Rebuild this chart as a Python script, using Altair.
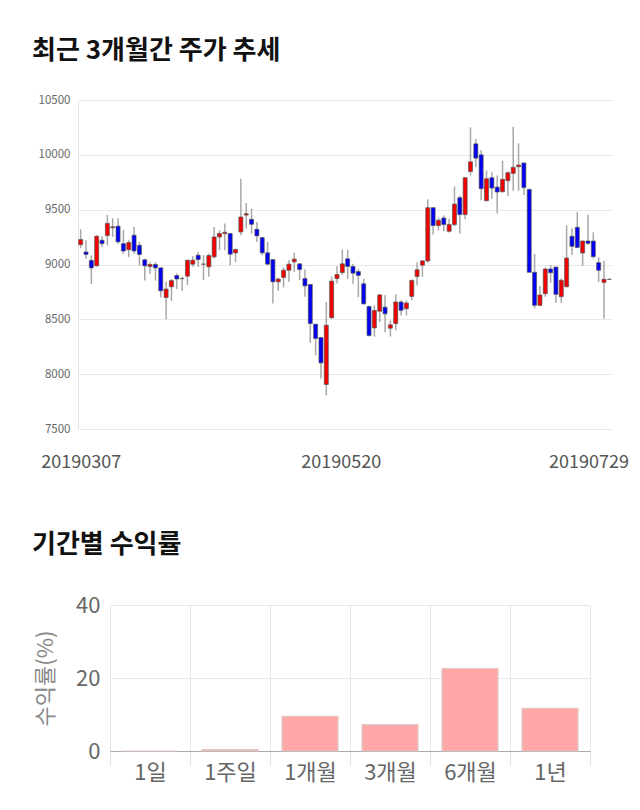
import altair as alt
import pandas as pd

FONT = "Noto Sans CJK KR"

# ---- candlestick data (100 trading days, 2019-03-07 .. 2019-07-29) ----
opens = [9181, 9114, 9037, 8988, 9221, 9264, 9335, 9350, 9190, 9135,
         9267, 9175, 9043, 8982, 9000, 8969, 8699, 8797, 8899, 8872,
         8894, 9003, 9085, 9003, 8979, 9070, 9251, 9282, 9282, 9106,
         9297, 9451, 9412, 9321, 9245, 9106, 9045, 8842, 8882, 8948,
         9024, 9006, 8872, 8818, 8456, 8334, 7906, 8514, 8872, 8927,
         9052, 8982, 8936, 8824, 8617, 8422, 8574, 8611, 8419, 8461,
         8658, 8597, 8709, 8891, 8994, 9033, 9518, 9355, 9424, 9303,
         9364, 9609, 9455, 9848, 10100, 10000, 9582, 9791, 9706, 9664,
         9764, 9831, 9892, 9926, 9685, 8929, 8628, 8734, 8959, 8977,
         8707, 8798, 9257, 9339, 9105, 9214, 9214, 9017, 8837, 8865]
highs = [9320, 9221, 9083, 9267, 9258, 9451, 9421, 9421, 9313, 9221,
         9344, 9206, 9052, 9021, 9021, 8975, 8846, 8868, 8920, 8889,
         9045, 9076, 9115, 9085, 9100, 9342, 9312, 9373, 9290, 9145,
         9782, 9560, 9509, 9388, 9251, 9206, 9045, 8882, 8973, 9039,
         9106, 9010, 8954, 8818, 8456, 8334, 8660, 8888, 8985, 9137,
         9134, 9006, 8960, 8869, 8626, 8626, 8730, 8723, 8489, 8727,
         8673, 8673, 8861, 9021, 9040, 9594, 9520, 9427, 9448, 9418,
         9712, 9630, 9795, 10251, 10145, 10045, 9858, 9842, 9812, 9947,
         9847, 10257, 10105, 9926, 9690, 9096, 8807, 8971, 8995, 8977,
         8874, 9357, 9330, 9479, 9220, 9454, 9293, 9065, 9035, 8870]
lows = [9150, 9052, 8822, 8982, 9160, 9175, 9252, 9190, 9098, 9068,
        9098, 8991, 8853, 8914, 8853, 8699, 8500, 8668, 8776, 8760,
        8812, 8979, 8979, 8858, 8888, 9055, 9130, 9130, 8994, 9024,
        9267, 9327, 9282, 9206, 9085, 8994, 8645, 8761, 8791, 8842,
        8933, 8857, 8705, 8286, 8173, 7960, 7808, 8507, 8827, 8903,
        8869, 8824, 8702, 8635, 8343, 8343, 8474, 8383, 8343, 8400,
        8536, 8536, 8673, 8809, 8888, 9015, 9273, 9312, 9303, 9291,
        9350, 9282, 9412, 9812, 9888, 9585, 9575, 9600, 9464, 9655,
        9625, 9673, 9673, 9634, 8929, 8600, 8620, 8707, 8834, 8652,
        8652, 8790, 9087, 9150, 8986, 9178, 9056, 8840, 8506, 8862]
closes = [9227, 9092, 8969, 9258, 9190, 9375, 9344, 9206, 9123, 9200,
          9123, 9092, 8988, 9000, 8969, 8760, 8776, 8853, 8868, 8872,
          9039, 9039, 9045, 9003, 9082, 9251, 9282, 9294, 9094, 9136,
          9433, 9463, 9367, 9261, 9106, 9003, 8842, 8867, 8948, 9003,
          9049, 8954, 8805, 8462, 8325, 8103, 8447, 8848, 8909, 9006,
          8982, 8921, 8900, 8641, 8352, 8580, 8723, 8550, 8450, 8658,
          8582, 8649, 8855, 8952, 9033, 9518, 9355, 9403, 9364, 9364,
          9551, 9455, 9791, 9936, 9970, 9691, 9782, 9697, 9661, 9777,
          9837, 9886, 9907, 9701, 8929, 8628, 8722, 8959, 8925, 8728,
          8856, 9059, 9166, 9156, 9214, 9193, 9071, 8947, 8865, 8865]

# x-axis date labels and where they sit along the candle index axis
tick_pos = [0, 48.7, 95.1]
tick_labels = ["20190307", "20190520", "20190729"]
price_ticks = [7500, 8000, 8500, 9000, 9500, 10000, 10500]

# ---- period returns ----
periods = ["1일", "1주일", "1개월", "3개월", "6개월", "1년"]
returns = [0.0, 0.35, 9.5, 7.2, 22.6, 11.7]

n = len(opens)
df = pd.DataFrame({
    "i": list(range(n)),
    "open": opens, "high": highs, "low": lows, "close": closes,
})
df["dir"] = ["up" if c > o else ("down" if c < o else "flat")
             for o, c in zip(opens, closes)]

label_expr = " : ".join(
    f"datum.value < {(tick_pos[k] + tick_pos[k + 1]) / 2} ? '{tick_labels[k]}'"
    for k in range(len(tick_pos) - 1)
) + f" : '{tick_labels[-1]}'"

xscale = alt.Scale(domain=[-0.5, n - 0.5], nice=False, zero=False, padding=0)
yscale = alt.Scale(domain=[7500, 10500], nice=False, zero=False)

x_enc = alt.X("i:Q", scale=xscale, axis=alt.Axis(
    values=tick_pos, labelExpr=label_expr, title=None, grid=False,
    ticks=False, domain=False, labelFont=FONT, labelFontSize=18,
    labelColor="#555", labelPadding=24, labelFlush=False,
))

base = alt.Chart(df)
wicks = base.mark_rule(color="#a8a8a8", strokeWidth=1.5).encode(
    x=x_enc,
    y=alt.Y("low:Q", scale=yscale, axis=alt.Axis(
        values=price_ticks, format="d", title=None, ticks=False, domain=True,
        domainColor="#e6e6e6", gridColor="#e8e8e8", labelFont=FONT,
        labelFontSize=11.5, labelColor="#666", labelPadding=8)),
    y2="high:Q",
)
bodies = base.mark_bar(size=4, stroke="#555", strokeWidth=0.7).encode(
    x=alt.X("i:Q", scale=xscale),
    y="open:Q",
    y2="close:Q",
    color=alt.Color("dir:N", legend=None, scale=alt.Scale(
        domain=["up", "down", "flat"], range=["#f50000", "#0000f5", "#555555"])),
)

top = alt.layer(wicks, bodies).properties(
    width=534, height=329,
    title=alt.TitleParams("최근 3개월간 주가 추세", anchor="start", frame="group",
                          dx=-46, font=FONT, fontSize=26, fontWeight="bold",
                          color="#111", offset=30),
)

rdf = pd.DataFrame({"period": periods, "ret": returns})
bottom = alt.Chart(rdf).mark_bar(color="#ffa6a6", stroke="#e0c8c8",
                                 strokeWidth=1.2,
                                 width=alt.RelativeBandSize(0.7)).encode(
    x=alt.X("period:N", sort=periods, scale=alt.Scale(paddingInner=0, paddingOuter=0),
            axis=alt.Axis(title=None, labelAngle=0, tickBand="extent", grid=True,
                          gridColor="#e8e8e8", tickColor="#e0e0e0", tickSize=14,
                          domainColor="#aaaaaa", labelFont=FONT, labelFontSize=22,
                          labelColor="#666", labelPadding=-3)),
    y=alt.Y("ret:Q", scale=alt.Scale(domain=[0, 40], nice=False),
            axis=alt.Axis(values=[0, 20, 40], title="수익률(%)", ticks=False,
                          domain=False, gridColor="#e8e8e8", labelFont=FONT,
                          labelFontSize=22, labelColor="#666", labelPadding=10,
                          titleFont=FONT, titleFontSize=22, titleFontWeight="normal",
                          titleColor="#888", titlePadding=18)),
).properties(
    width=480, height=146,
    title=alt.TitleParams("기간별 수익률", anchor="start", frame="group",
                          dx=-78, font=FONT, fontSize=26, fontWeight="bold",
                          color="#111", offset=36),
)

# invisible spacer that shifts the return chart's plot area right of the price plot
spacer = alt.Chart(pd.DataFrame({"v": [0]})).mark_point(opacity=0).properties(
    width=32, height=146)
bottom_row = alt.hconcat(spacer, bottom, spacing=0, bounds="flush")

chart = alt.vconcat(top, bottom_row, spacing=176, bounds="flush").properties(
    padding={"left": 32, "top": 38, "right": 4, "bottom": 10},
).configure_view(stroke=None)

chart.save("out.html", embed_options={"renderer": "svg", "actions": False})
